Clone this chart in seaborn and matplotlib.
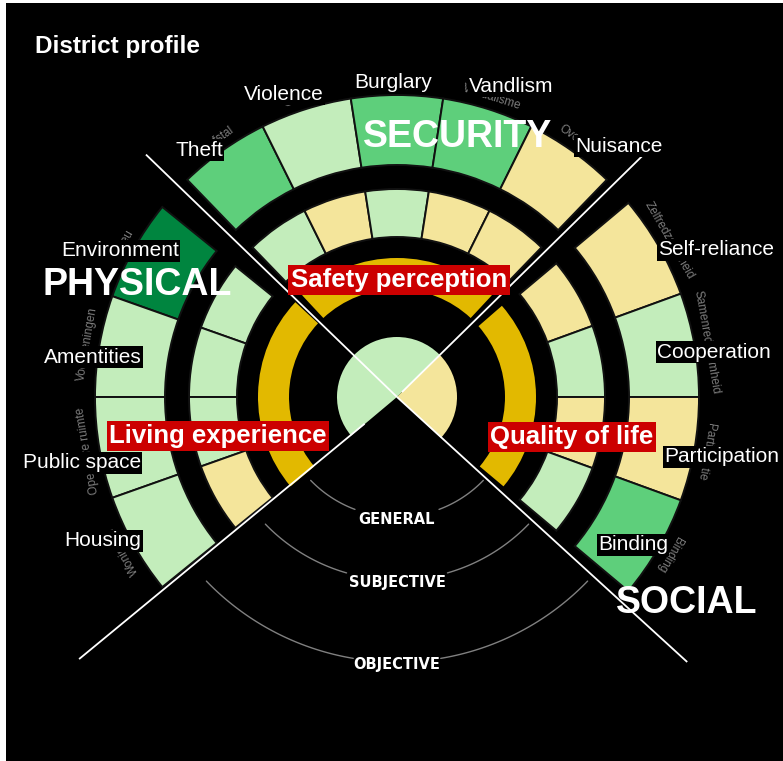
import numpy as np
import matplotlib
matplotlib.use("Agg")
import matplotlib.pyplot as plt
import seaborn as sns

# score level -> colour (0 = general ring, 1 = low ... 4 = high)
score_colors = {0: "#E2B900", 1: "#F4E59B", 2: "#C3EDBB", 3: "#5ECF7B", 4: "#00853F"}

security_labels = ["Theft", "Violence", "Burglary", "Vandlism", "Nuisance"]
security_dutch = ["Diefstal", "Geweld", None, "Vandalisme", "Overlast"]  # Inbraak is hidden
security_objective = [3, 2, 3, 3, 1]
security_subjective = [2, 1, 2, 1, 1]

physical_labels = ["Environment", "Amentities", "Public space", "Housing"]
physical_dutch = ["Milieu", "Voorzieningen", "Openbare ruimte", "Woningen"]
physical_objective = [4, 2, 2, 2]
physical_subjective = [2, 2, 2, 1]

social_labels = ["Self-reliance", "Cooperation", "Participation", "Binding"]
social_dutch = ["Zelfredzaamheid", "Samenredzaamheid", "Participatie", "Binding"]
social_objective = [1, 2, 1, 3]
social_subjective = [1, 2, 1, 2]

general_labels = ["Safety perception", "Living experience", "Quality of life"]
general_scores = [0, 0, 0]
total_scores = [2, 2, 1]  # security, physical, social

sector_names = ["SECURITY", "PHYSICAL", "SOCIAL"]
level_names = ["GENERAL", "SUBJECTIVE", "OBJECTIVE"]

# ---- layout (pixels of a 783x761 canvas, centre of the wheel) ----
W, H = 783, 761
CX, CY = 397, 397
RMAX = 420

sector_span = [(134, 46), (141, 219), (40, -40)]
general_span = [(133, 47), (137, 220), (41, -40)]
total_span = [(45, 136), (136, 220), (-43, 45)]

r_total = (0, 60)
r_general = (108, 139)
r_subj = (160, 208)
r_obj = (232, 302)

sns.set_theme(style="dark")
plt.rcParams["font.family"] = ["Liberation Sans", "DejaVu Sans"]

fig = plt.figure(figsize=(W / 100, H / 100), dpi=100)
fig.patch.set_facecolor("white")
fig.add_artist(plt.Rectangle((6 / W, 0), 1 - 6 / W, 1 - 3 / H, transform=fig.transFigure,
                             facecolor="black", edgecolor="none", zorder=-5))

ax = fig.add_axes([(CX - RMAX) / W, (H - CY - RMAX) / H, 2 * RMAX / W, 2 * RMAX / H],
                  projection="polar")
ax.set_ylim(0, RMAX)
ax.set_axis_off()
ax.patch.set_alpha(0)


def ring(a0, a1, scores, radii, edge="#111111"):
    n = len(scores)
    edges = np.linspace(a0, a1, n + 1)
    mids = (edges[:-1] + edges[1:]) / 2
    ax.bar(np.deg2rad(mids), radii[1] - radii[0], width=np.deg2rad(abs(a1 - a0) / n),
           bottom=radii[0], color=[score_colors[s] for s in scores],
           edgecolor=edge, linewidth=1.4, zorder=2)
    return mids


objective = [security_objective, physical_objective, social_objective]
subjective = [security_subjective, physical_subjective, social_subjective]
dutch = [security_dutch, physical_dutch, social_dutch]

for i in range(3):
    a0, a1 = sector_span[i]
    mids = ring(a0, a1, objective[i], r_obj)
    ring(a0, a1, subjective[i], r_subj)
    g0, g1 = general_span[i]
    ring(g0, g1, [general_scores[i]], r_general, edge="none")
    t0, t1 = total_span[i]
    ring(t0, t1, [total_scores[i]], r_total, edge="none")
    # faint original (Dutch) names along the rim
    for m, name in zip(mids, dutch[i]):
        if name is None:
            continue
        ax.text(np.deg2rad(m), 314, name, rotation=m - 90, rotation_mode="anchor",
                ha="center", va="center", fontsize=8.5, color="#7c7c7c", zorder=1)

# thin arcs for the three levels in the empty bottom quarter
level_radii = [120, 183, 265]
level_gap = [20.5, 16, 9.5]
for rad, gap, name in zip(level_radii, level_gap, level_names):
    for lo, hi in [(224, 270 - gap), (270 + gap, 316)]:
        th = np.deg2rad(np.linspace(lo, hi, 60))
        ax.plot(th, np.full_like(th, rad), color="#808080", lw=1.0, zorder=2)
    ax.text(np.deg2rad(270), rad + 3, name, ha="center", va="center", fontsize=10.5,
            fontweight="bold", color="white", family="DejaVu Sans", zorder=4)

# white dividing lines
divider_angle = [136, 44.5, -42.4, 219.5]
divider_from = [0, 7, 0, 42]
divider_to = [349, 345, 393, 412]
for a, r0, r1 in zip(divider_angle, divider_from, divider_to):
    ax.plot([np.deg2rad(a)] * 2, [r0, r1], color="white", lw=1.3, zorder=3,
            solid_capstyle="butt")


def ftext(x, y, s, **kw):
    return fig.text(x / W, 1 - y / H, s, **kw)


ftext(35, 53, "District profile", fontsize=17.5, fontweight="bold", color="white",
      va="baseline", ha="left")

# category labels (black boxes)
label_pos = [
    [(199, 150), (284, 94), (393, 83), (511, 86), (619, 146)],
    [(120, 251), (93, 357), (82, 463), (103, 541)],
    [(716, 250), (714, 352), (722, 457), (633, 545)],
]
labels = [security_labels, physical_labels, social_labels]
for i in range(3):
    for (x, y), s in zip(label_pos[i], labels[i]):
        ftext(x, y, s, fontsize=15, color="white", ha="center", va="center",
              bbox=dict(boxstyle="square,pad=0.06", facecolor="black", edgecolor="none"))

# sector titles
title_pos = [(458, 147), (137, 295), (687, 613)]
for (x, y), s in zip(title_pos, sector_names):
    ftext(x, y, s, fontsize=27, fontweight="bold", color="white", ha="center",
          va="baseline")

# general ring labels (red boxes)
general_pos = [(399, 280), (218, 436), (572, 437)]
for (x, y), s in zip(general_pos, general_labels):
    ftext(x, y, s, fontsize=18.5, fontweight="bold", color="white", ha="center",
          va="center", bbox=dict(boxstyle="square,pad=0.1", facecolor="#CC0000",
                                 edgecolor="none"))

fig.savefig("out.png", dpi=100, facecolor=fig.get_facecolor())
